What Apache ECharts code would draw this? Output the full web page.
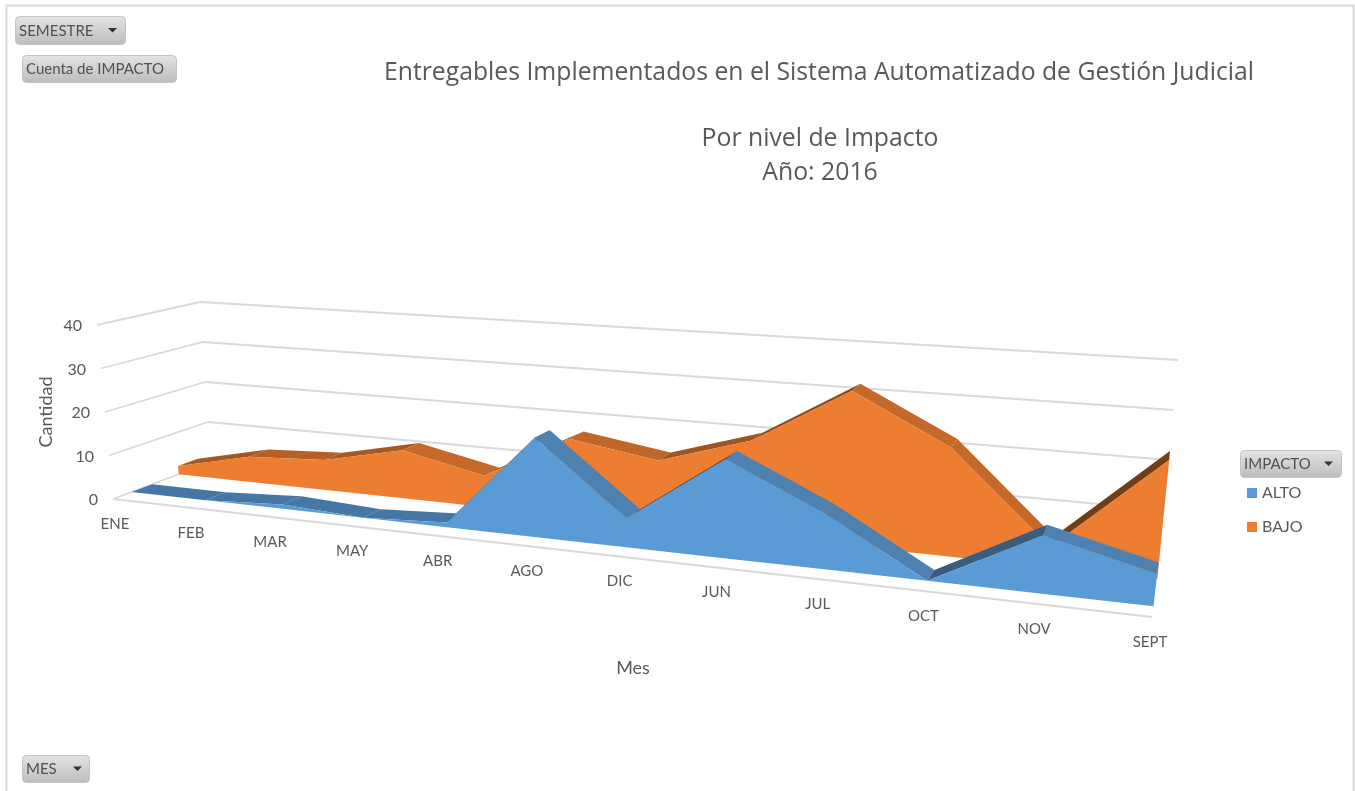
<!DOCTYPE html>
<html><head><meta charset="utf-8">
<style>html,body{margin:0;padding:0;background:#fff;overflow:hidden}#c{width:1355px;height:791px}</style>
<script src="https://cdn.jsdelivr.net/npm/echarts@6/dist/echarts.min.js"></script>
</head><body><div id="c"></div>
<script>
var categories = ['ENE','FEB','MAR','MAY','ABR','AGO','DIC','JUN','JUL','OCT','NOV','SEPT'];
var alto = [0,0,1,0,1,21,6,20,11,0,11,6];
var bajo = [2,6,7,11,7,17,14,20,32,22,4,23];
var valueTicks = [0,10,20,30,40];

var FONT = 'Lato, "Open Sans", sans-serif';
var TITLE_FONT = '"Open Sans", Lato, sans-serif';
var TXT = '#595959';
// perspective box of the Excel 3-D chart: corners [front/back][left/right][floor/top]
var BOX = {fl0:[113,499],fl1:[97,325],bl0:[211,462],bl1:[200,302],fr0:[1152,617],fr1:[1178,397],br0:[1160,560],br1:[1178,360]};
var LABEL_FORESHORTEN = 1.26;
function lerp(a,b,k){return [a[0]+(b[0]-a[0])*k,a[1]+(b[1]-a[1])*k];}
function project(t,h,d,k){
  k=k||(1.29-0.05*d);   // foreshortening along the category axis eases with depth
  var u=t/(k-(k-1)*t);
  var f=lerp(lerp(BOX.fl0,BOX.fr0,u),lerp(BOX.fl1,BOX.fr1,u),h);
  var b=lerp(lerp(BOX.bl0,BOX.br0,u),lerp(BOX.bl1,BOX.br1,u),h);
  return lerp(f,b,d);
}
function norm(api,cs,i,v){
  var p=api.coord([i,v]);
  return {t:(p[0]-cs.x)/cs.width,h:(cs.y+cs.height-p[1])/cs.height};
}
function shade(rgb,s){
  if(Math.abs(s)<=1) s=0;
  var f=s>0?0.76-0.0145*s:Math.min(0.83,0.77+0.015*(-s));
  return 'rgb('+rgb.map(function(c){return Math.round(c*f);}).join(',')+')';
}
function slab(values,rgb,d0,d1){
  return function(params,api){
    if(params.dataIndex!==0) return null;
    var cs=params.coordSys, children=[], front=[], i;
    function at(i,v,d){var n=norm(api,cs,i,v);return project(n.t,n.h,d);}
    for(i=0;i<values.length-1;i++){
      children.push({type:'polygon',shape:{points:[at(i,values[i],d0),at(i+1,values[i+1],d0),at(i+1,values[i+1],d1),at(i,values[i],d1)]},
        style:{fill:shade(rgb,values[i+1]-values[i])}});
    }
    for(i=0;i<values.length;i++) front.push(at(i,values[i],d0));
    for(i=values.length-1;i>=0;i--) front.push(at(i,0,d0));
    children.push({type:'polygon',shape:{points:front},style:{fill:'rgb('+rgb.join(',')+')'}});
    return {type:'group',children:children};
  };
}
function rows(arr){return arr.map(function(v,i){return [i,v];});}
function button(x,y,w,h,label,tri){
  var kids=[{type:'rect',shape:{x:x+.5,y:y+.5,width:w,height:h,r:4},
    style:{fill:{type:'linear',x:0,y:0,x2:0,y2:1,colorStops:[{offset:0,color:'#e4e4e4'},{offset:1,color:'#bcbcbc'}]},stroke:'#c4c4c4',lineWidth:1}},
    {type:'text',style:{x:x+4,y:y+h/2+1,text:label,font:'15px '+FONT,fill:'#505050',textVerticalAlign:'middle',textAlign:'left'}}];
  if(tri!=null) kids.push({type:'polygon',shape:{points:[[x+tri,y+h/2-2],[x+tri+9,y+h/2-2],[x+tri+4.5,y+h/2+2.5]]},style:{fill:'#333'}});
  return {type:'group',children:kids};
}
var chart=echarts.init(document.getElementById('c'),null,{renderer:'canvas'});
chart.setOption({
  animation:false,
  backgroundColor:'#fff',
  title:[
    {text:'Entregables Implementados en el Sistema Automatizado de Gestión Judicial',left:814,top:55,textAlign:'center',
     textStyle:{fontFamily:TITLE_FONT,fontSize:24.75,fontWeight:'normal',color:TXT}},
    {text:'Por nivel de Impacto\nAño: 2016',left:815,top:117,textAlign:'center',
     textStyle:{fontFamily:TITLE_FONT,fontSize:24.8,fontWeight:'normal',color:TXT,lineHeight:34}}
  ],
  legend:{data:['ALTO','BAJO'],orient:'vertical',left:1242,top:480,itemWidth:10,itemHeight:10,itemGap:18,
    textStyle:{fontFamily:FONT,fontSize:16,color:TXT},selectedMode:false,icon:'rect'},
  grid:{left:100,right:100,top:100,bottom:100},
  xAxis:{type:'category',data:categories,boundaryGap:false,show:false},
  yAxis:{type:'value',min:0,max:40,interval:10,show:false},
  graphic:[
    {type:'rect',shape:{x:6.5,y:5.5,width:1347,height:800},style:{fill:'none',stroke:'#d9d9d9',lineWidth:2},silent:true,z:0},
    Object.assign(button(15,16,110,28,'SEMESTRE',93),{z:20}),
    Object.assign(button(22,55,154,27,'Cuenta de IMPACTO',null),{z:20}),
    Object.assign(button(1240,450,101,27,'IMPACTO',84),{z:20}),
    Object.assign(button(22,755,67,27,'MES',51),{z:20}),
    {type:'text',x:46,y:412,rotation:Math.PI/2,z:20,style:{text:'Cantidad',font:'18px '+FONT,fill:TXT,textAlign:'center',textVerticalAlign:'middle'}},
    {type:'text',x:633,y:668,z:20,style:{text:'Mes',font:'18px '+FONT,fill:TXT,textAlign:'center',textVerticalAlign:'middle'}}
  ],
  series:[
    {name:'walls',type:'custom',coordinateSystem:'cartesian2d',z:1,silent:true,data:valueTicks.map(function(v){return [0,v];}),
     renderItem:function(params,api){
       var n=norm(api,params.coordSys,0,api.value(1)), h=n.h;
       var a=project(0,h,0),b=project(0,h,1),c=project(1,h,1);
       var line={stroke:'#d9d9d9',lineWidth:1.8,fill:'none'};
       var kids=[{type:'polyline',shape:{points:[a,b,c]},style:line},
         {type:'text',style:{x:a[0]-15,y:a[1]+1,text:String(api.value(1)),font:'16px '+FONT,fill:TXT,textAlign:'right',textVerticalAlign:'middle'}}];
       if(api.value(1)===0) kids.push({type:'polyline',shape:{points:[a,project(1,0,0)]},style:line});
       return {type:'group',children:kids};
     }},
    {name:'ALTO',type:'custom',coordinateSystem:'cartesian2d',z:4,silent:true,itemStyle:{color:'#5B9BD5'},data:rows(alto),
     renderItem:slab(alto,[91,155,213],0.19,0.40)},
    {name:'BAJO',type:'custom',coordinateSystem:'cartesian2d',z:3,silent:true,itemStyle:{color:'#ED7D31'},data:rows(bajo),
     renderItem:slab(bajo,[237,125,49],0.67,0.87)},
    {name:'labels',type:'custom',coordinateSystem:'cartesian2d',z:5,silent:true,data:categories.map(function(c,i){return [i,0];}),
     renderItem:function(params,api){
       var i=api.value(0), n=norm(api,params.coordSys,i,0), p=project(n.t,0,0,LABEL_FORESHORTEN);
       return {type:'text',style:{x:p[0]+2-4*n.t,y:p[1]+25,text:categories[i],font:'15px '+FONT,fill:TXT,textAlign:'center',textVerticalAlign:'middle'}};
     }}
  ]
});
</script></body></html>
